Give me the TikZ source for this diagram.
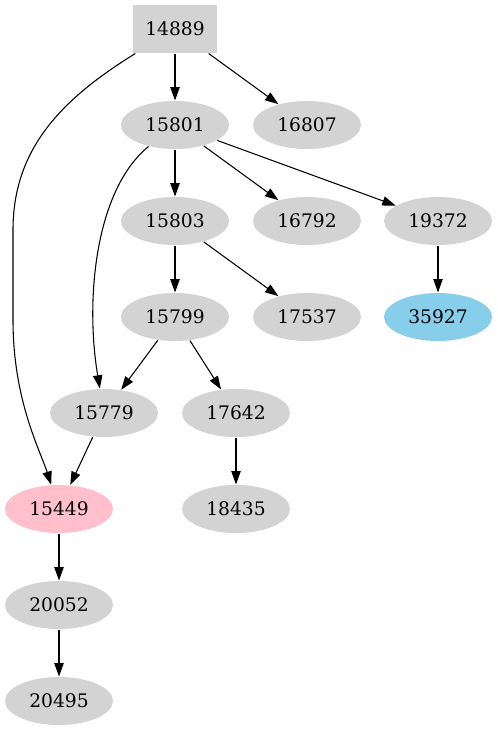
\documentclass[tikz,border=0pt]{standalone}
\usepackage{fontspec}
\setmainfont{DejaVu Serif}
\usetikzlibrary{arrows.meta,shapes.geometric}
\definecolor{gvgray}{RGB}{211,211,211}
\definecolor{gvpink}{RGB}{255,192,203}
\definecolor{gvsky}{RGB}{135,206,235}
\begin{document}
\begin{tikzpicture}[x=.75pt, y=-.75pt, font=\fontsize{14}{16}\selectfont, line join=round, line width=.8pt, >={Triangle[length=10pt,width=7pt]},
	nd/.style={ellipse, fill=gvgray, minimum width=81pt, minimum height=36pt, inner sep=0pt},
	box/.style={rectangle, fill=gvgray, minimum width=63pt, minimum height=36pt, inner sep=0pt}]
	\useasboundingbox (0,0) rectangle (498,731);
	\node[box] (14889) at (175,29) {14889};
	\foreach \n/\x/\y in {15801/175/125, 16807/307/125, 15803/175/221, 16792/307/221, 19372/438/221,
		15799/175/317, 17537/307/317, 15779/104/413, 17642/236/413, 18435/236/509, 20052/59/605, 20495/59/701}
	\node[nd] (\n) at (\x,\y) {\n};
	\node[nd, fill=gvsky] (35927) at (438,317) {35927};
	\node[nd, fill=gvpink] (15449) at (59,509) {15449};
	\foreach \a/\b in {14889/15801, 14889/16807, 15801/15803, 15801/16792, 15801/19372, 15803/15799, 15803/17537,
		19372/35927, 15799/15779, 15799/17642, 15779/15449, 17642/18435, 15449/20052, 20052/20495}
	\draw[->] (\a) -- (\b);
	\draw[->] (14889) .. controls (60,100) and (13,150) .. (13,230) -- (13,320) .. controls (13,400) and (40,450) .. (15449);
	\draw[->] (15801) .. controls (95,190) and (85,300) .. (15779);
\end{tikzpicture}
\end{document}
